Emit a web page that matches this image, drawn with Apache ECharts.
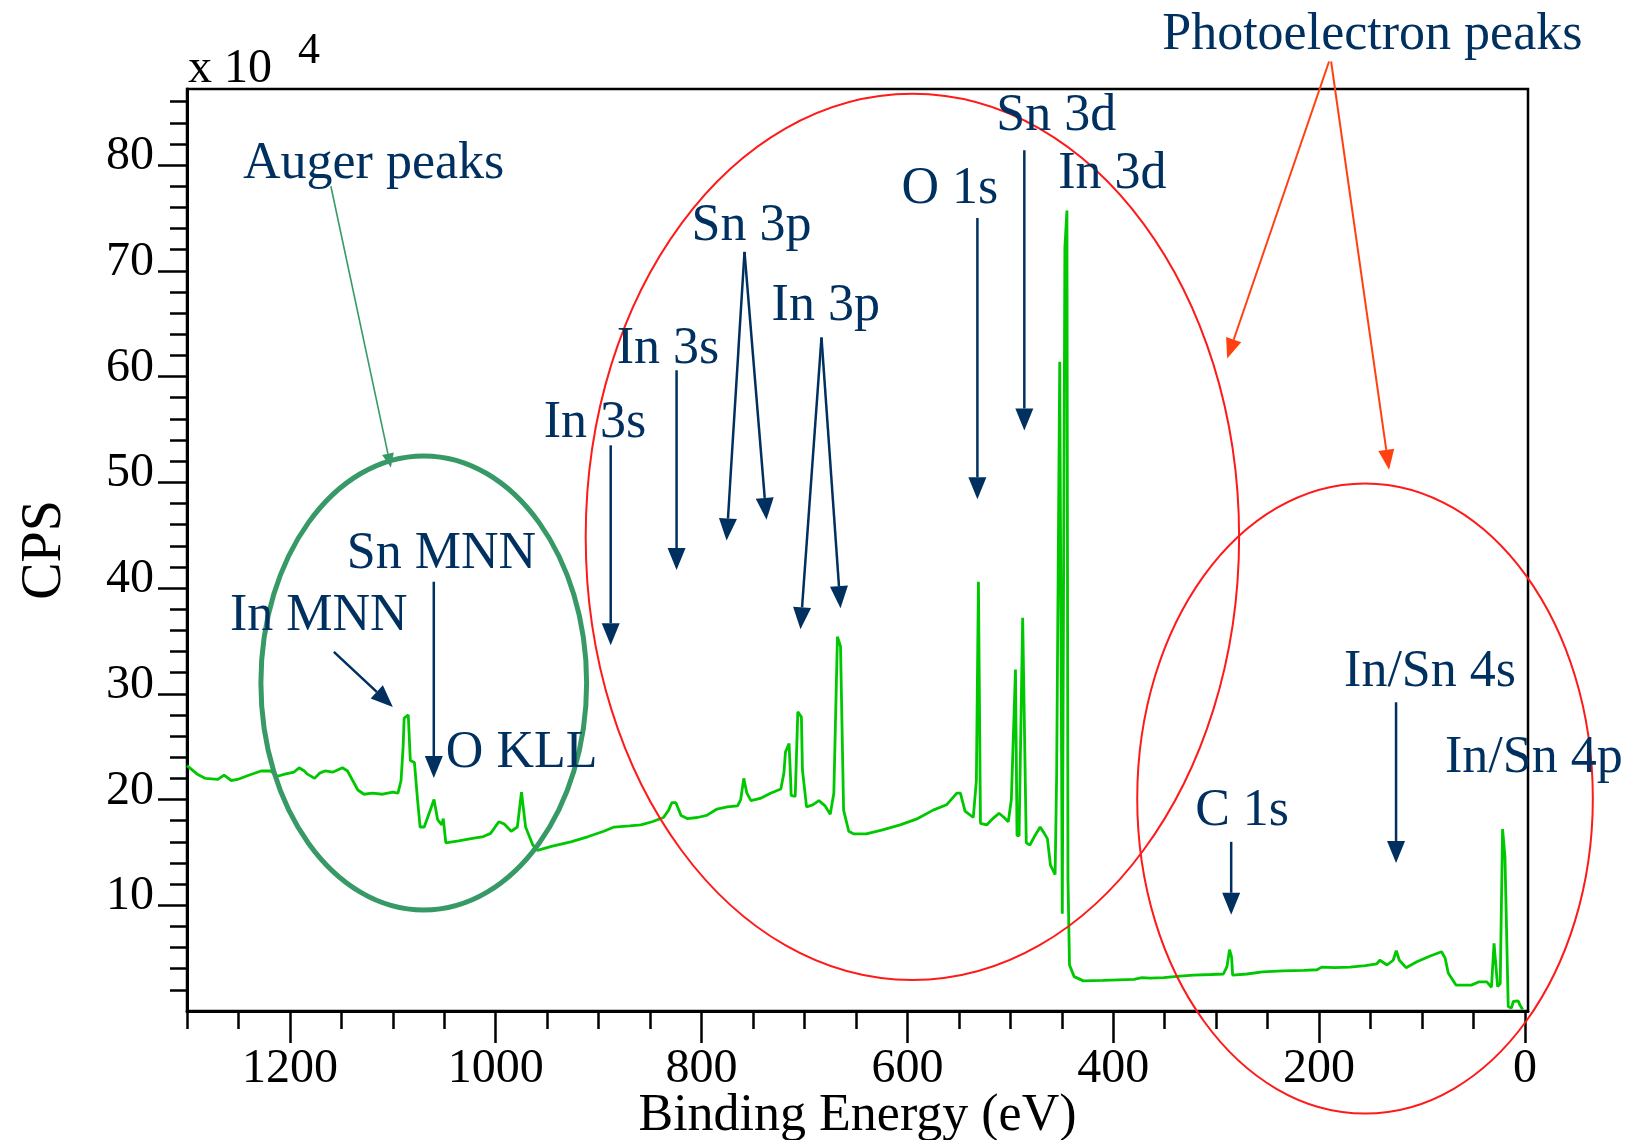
<!DOCTYPE html>
<html>
<head>
<meta charset="utf-8">
<title>XPS survey spectrum</title>
<script src="https://cdn.jsdelivr.net/npm/echarts@6/dist/echarts.min.js"></script>
<style>
html, body { margin: 0; padding: 0; background: #fff; }
#chart { width: 1630px; height: 1140px; }
</style>
</head>
<body>
<div id="chart"></div>
<script>
// survey spectrum, binding energy (eV) vs counts (x 10^4 CPS)
var energy = [
  1300, 1290, 1282, 1270, 1264, 1257, 1251, 1240, 1228, 1219,
  1212, 1205, 1196, 1191, 1186, 1183, 1176, 1171, 1166, 1158,
  1149, 1144, 1139, 1134, 1128, 1120, 1110, 1100, 1095, 1092,
  1090, 1089, 1085, 1083, 1079, 1076, 1073.5, 1069.5, 1064, 1060,
  1056.5, 1052.5, 1051, 1048.5, 1036, 1024, 1012, 1005, 997, 992,
  985, 979, 975, 971, 964, 959.5, 945, 927, 910, 895,
  885, 870, 859, 848, 837, 832, 829, 825, 820, 814,
  804, 795, 785, 775, 765, 762, 759, 756, 752, 743,
  733, 723, 720, 718.5, 715, 713.5, 713, 709, 706.5, 703,
  702, 698, 692, 686, 680, 675, 671.5, 668, 665, 662,
  657, 652, 640, 625, 607, 590, 575, 562, 552, 548.5,
  544, 536, 533, 531, 529, 523, 517, 511, 506, 502,
  499, 495, 493.5, 491.5, 488, 484.5, 481, 476, 471, 467,
  464, 461, 456.5, 455, 452, 449.5, 447, 445, 444, 442.5,
  438, 429, 410, 395, 380, 372, 364, 351, 335, 322,
  305, 293, 289.5, 287, 285, 284, 270, 255, 235, 215,
  202, 197.5, 185, 170, 155, 144, 141, 134, 128, 125,
  122, 115.5, 105, 92, 81, 77.5, 74.5, 67, 52, 45,
  37, 32.5, 30, 26.5, 24, 21.7, 19.4, 16.2, 13, 11.3,
  6.5, 5, 2.2
];
var cps = [
  23.2, 22.4, 22.0, 21.9, 22.3, 21.8, 21.9, 22.3, 22.7, 22.7,
  22.2, 22.4, 22.6, 23.0, 22.7, 22.4, 22.0, 22.5, 22.7, 22.6,
  23.0, 22.7, 21.8, 20.9, 20.5, 20.6, 20.5, 20.7, 20.6, 21.8,
  25.0, 27.7, 28.0, 23.7, 23.5, 20.0, 17.4, 17.4, 18.9, 20.0,
  18.1, 17.6, 18.2, 15.9, 16.1, 16.3, 16.5, 16.8, 17.9, 17.7,
  17.0, 17.4, 20.7, 17.4, 15.7, 15.2, 15.6, 16.0, 16.5, 17.0,
  17.4, 17.5, 17.6, 17.9, 18.3, 19.0, 19.7, 19.7, 18.5, 18.2,
  18.3, 18.5, 19.1, 19.3, 19.4, 20.0, 22.0, 20.6, 19.9, 20.1,
  20.6, 21.0, 22.5, 24.5, 25.3, 22.0, 20.4, 20.3, 28.3, 27.8,
  22.8, 19.3, 19.5, 19.9, 19.4, 18.6, 20.6, 35.4, 34.5, 19.0,
  17.0, 16.75, 16.75, 17.1, 17.6, 18.2, 19.0, 19.5, 20.6, 20.6,
  18.9, 18.3, 21.8, 40.6, 17.75, 17.6, 18.2, 18.7, 18.3, 17.9,
  20.0, 32.3, 16.6, 16.6, 37.2, 15.9, 15.7, 16.6, 17.4, 16.8,
  16.3, 13.8, 12.9, 22.3, 61.4, 9.2, 72.2, 75.7, 12.5, 4.35,
  3.25, 2.85, 2.9, 2.95, 3.0, 3.15, 3.1, 3.15, 3.3, 3.4,
  3.45, 3.5, 4.2, 5.8, 5.1, 3.4, 3.5, 3.7, 3.8, 3.85,
  3.9, 4.15, 4.1, 4.15, 4.3, 4.45, 4.8, 4.35, 4.8, 5.7,
  4.8, 4.1, 4.65, 5.2, 5.6, 5.0, 3.6, 2.45, 2.45, 2.75,
  2.75, 2.25, 6.4, 2.3, 2.6, 17.2, 14.6, 0.4, 0.3, 0.9,
  0.95, 0.6, 0.15
];

var xMajorTicks = [1200, 1000, 800, 600, 400, 200, 0];
var xMinorTicks = [1300, 1250, 1150, 1100, 1050, 950, 900, 850, 750, 700, 650,
  550, 500, 450, 350, 300, 250, 150, 100, 50];
var yMajorTicks = [10, 20, 30, 40, 50, 60, 70, 80];
var yMinorTicks = [2, 4, 6, 8, 12, 14, 16, 18, 22, 24, 26, 28, 32, 34, 36, 38,
  42, 44, 46, 48, 52, 54, 56, 58, 62, 64, 66, 68, 72, 74, 76, 78, 82, 84, 86];

// peak labels: text, binding energy and CPS of the left / middle point of the text
var peakNames = ['Auger peaks', 'Sn MNN', 'In MNN', 'O KLL', 'In 3s', 'In 3s', 'Sn 3p',
  'In 3p', 'O 1s', 'Sn 3d', 'In 3d', 'Photoelectron peaks', 'C 1s', 'In/Sn 4s', 'In/Sn 4p'];
var peakNameE = [1245.6, 1144.7, 1258.3, 1048.5, 882.5, 953.4, 809.7,
  732, 605.8, 513.6, 453.4, 352.4, 320.4, 175.7, 77.7];
var peakNameC = [80.1, 43.2, 37.35, 24.4, 62.6, 55.6, 74.25,
  66.6, 77.7, 84.6, 79.1, 92.3, 18.9, 32.0, 23.9];

// pointer arrows [fromE, fromC, toE, toC]
var pointers = [
  [1157.3, 33.96, 1100, 28.76],
  [1060.2, 40.6, 1060.2, 22.04],
  [888.3, 53.5, 888.3, 34.6],
  [824.3, 60.6, 824.3, 41.7],
  [758.3, 71.8, 775.7, 44.5],
  [758.3, 71.8, 736.9, 46.45],
  [683.5, 63.7, 703.9, 36.1],
  [683.5, 63.7, 665, 38.1],
  [532, 75.0, 532, 48.4],
  [486.4, 81.4, 486.4, 54.9],
  [285.4, 16.0, 285.4, 9.1],
  [125.2, 29.2, 125.2, 14.0]
];
var augerPointer = [1160.2, 78.0, 1101.9, 51.4];
var photoPointers = [
  [190.3, 89.8, 289.3, 61.7],
  [188.3, 89.8, 132, 51.2]
];
// ellipses as [leftE, rightE, topC, bottomC]
var augerRing = [1228.2, 911.7, 52.5, 9.56];
var photoRings = [
  [912.6, 277.7, 86.75, 2.93],
  [376.7, -66, 49.9, -9.7]
];

var serif = "'Liberation Serif', 'Times New Roman', serif";
var navy = '#00305f';

var chart = echarts.init(document.getElementById('chart'));

var spectrum = [];
for (var i = 0; i < energy.length; i++) {
    spectrum.push([energy[i], cps[i]]);
}

var option = {
    animation: false,
    backgroundColor: '#fff',
    grid: {
        left: 187, right: 102, top: 89, bottom: 129,
        outerBoundsMode: 'none', containLabel: false,
        show: true, borderColor: '#000', borderWidth: 2.5
    },
    xAxis: [{
        type: 'value', inverse: true, min: -3, max: 1300, position: 'bottom',
        name: 'Binding Energy (eV)', nameLocation: 'middle', nameGap: 79, nameMoveOverlap: false,
        nameTextStyle: { fontFamily: serif, fontSize: 52, color: '#000' },
        axisLine: { show: true, onZero: false, lineStyle: { color: '#000', width: 3 } },
        axisTick: { show: true, customValues: xMajorTicks, length: 32, lineStyle: { color: '#000', width: 2.5 } },
        axisLabel: { customValues: xMajorTicks, fontFamily: serif, fontSize: 48, color: '#000',
            margin: 58, verticalAlign: 'middle',
            formatter: function (v) { return String(v); } },
        splitLine: { show: false }
    }, {
        type: 'value', inverse: true, min: -3, max: 1300, position: 'bottom',
        axisLine: { show: false, onZero: false },
        axisTick: { show: true, customValues: xMinorTicks, length: 18, lineStyle: { color: '#000', width: 2.5 } },
        axisLabel: { show: false },
        splitLine: { show: false }
    }],
    yAxis: [{
        type: 'value', min: 0, max: 87.2, position: 'left',
        name: 'CPS', nameLocation: 'middle', nameRotate: 90, nameGap: 114, nameMoveOverlap: false,
        nameTextStyle: { fontFamily: serif, fontSize: 56, color: '#000' },
        axisLine: { show: true, onZero: false, lineStyle: { color: '#000', width: 3 } },
        axisTick: { show: true, customValues: yMajorTicks, length: 29, lineStyle: { color: '#000', width: 2.5 } },
        axisLabel: { customValues: yMajorTicks, fontFamily: serif, fontSize: 48, color: '#000',
            margin: 33, align: 'right', verticalAlign: 'bottom', lineHeight: 17 },
        splitLine: { show: false }
    }, {
        type: 'value', min: 0, max: 87.2, position: 'left',
        axisLine: { show: false, onZero: false },
        axisTick: { show: true, customValues: yMinorTicks, length: 17, lineStyle: { color: '#000', width: 2.5 } },
        axisLabel: { show: false },
        splitLine: { show: false }
    }],
    series: [{
        type: 'line',
        xAxisIndex: 0, yAxisIndex: 0,
        data: spectrum,
        showSymbol: false,
        lineStyle: { color: '#00c800', width: 2.8 }
    }]
};
chart.setOption(option);

function px(e, c) {
    return chart.convertToPixel({ xAxisIndex: 0, yAxisIndex: 0 }, [e, c]);
}

function arrow(p, color, width, headLen, headHalf) {
    var a = px(p[0], p[1]), b = px(p[2], p[3]);
    var dx = b[0] - a[0], dy = b[1] - a[1];
    var len = Math.sqrt(dx * dx + dy * dy);
    var ux = dx / len, uy = dy / len;
    var bx = b[0] - ux * headLen, by = b[1] - uy * headLen;
    return [{
        type: 'line', silent: true, z: 100,
        shape: { x1: a[0], y1: a[1], x2: bx, y2: by },
        style: { stroke: color, lineWidth: width }
    }, {
        type: 'polygon', silent: true, z: 100,
        shape: { points: [[b[0], b[1]], [bx - uy * headHalf, by + ux * headHalf], [bx + uy * headHalf, by - ux * headHalf]] },
        style: { fill: color }
    }];
}

function ring(r, color, width) {
    var a = px(r[0], r[2]), b = px(r[1], r[3]);
    return {
        type: 'ellipse', silent: true, z: 90,
        shape: { cx: (a[0] + b[0]) / 2, cy: (a[1] + b[1]) / 2, rx: Math.abs(b[0] - a[0]) / 2, ry: Math.abs(b[1] - a[1]) / 2 },
        style: { fill: 'transparent', stroke: color, lineWidth: width }
    };
}

var graphics = [];
graphics.push(ring(augerRing, '#379a66', 5));
photoRings.forEach(function (r) { graphics.push(ring(r, '#ff1a1a', 2)); });

pointers.forEach(function (p) {
    graphics = graphics.concat(arrow(p, navy, 2.5, 22, 9));
});
graphics = graphics.concat(arrow(augerPointer, '#379a66', 1.6, 14, 6));
photoPointers.forEach(function (p) {
    graphics = graphics.concat(arrow(p, '#ff4010', 2, 20, 8));
});

for (var k = 0; k < peakNames.length; k++) {
    var pos = px(peakNameE[k], peakNameC[k]);
    graphics.push({
        type: 'text', silent: true, z: 110,
        x: pos[0], y: pos[1],
        style: {
            text: peakNames[k], fill: navy,
            fontFamily: serif, fontSize: 52,
            align: 'left', verticalAlign: 'middle',
            textAlign: 'left', textVerticalAlign: 'middle'
        }
    });
}

// axis multiplier "x 10^4" at the top-left corner of the frame
var corner = px(1300, 87.2);
graphics.push({
    type: 'text', silent: true, z: 110,
    x: corner[0] + 1, y: corner[1] - 20,
    style: { text: 'x 10', fill: '#000', fontFamily: serif, fontSize: 48,
        align: 'left', verticalAlign: 'middle', textAlign: 'left', textVerticalAlign: 'middle' }
});
graphics.push({
    type: 'text', silent: true, z: 110,
    x: corner[0] + 111, y: corner[1] - 38,
    style: { text: '4', fill: '#000', fontFamily: serif, fontSize: 44,
        align: 'left', verticalAlign: 'middle', textAlign: 'left', textVerticalAlign: 'middle' }
});

chart.setOption({ graphic: { elements: graphics } });
</script>
</body>
</html>
